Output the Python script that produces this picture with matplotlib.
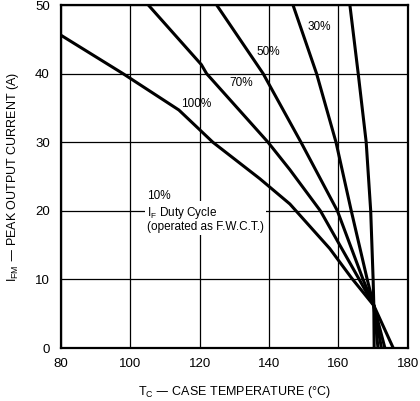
import matplotlib
matplotlib.use("Agg")
import matplotlib.pyplot as plt

plt.rcParams['font.family'] = ['Liberation Sans', 'DejaVu Sans']
plt.rcParams['mathtext.default'] = 'regular'

# Derating curves: case temperature (°C) vs peak output current (A)
temp_100 = [80, 97.9, 114, 123.8, 137.3, 146, 157.5, 163.8, 170.2, 175.8]
curr_100 = [45.6, 40, 34.7, 30, 24.7, 21, 14.5, 10.2, 6.2, 0]

temp_70 = [105.2, 120.5, 122, 139.7, 146, 154.8, 166, 170.2, 173.4]
curr_70 = [50, 41.3, 40, 30, 26, 20, 10, 6.2, 0]

temp_50 = [124.9, 138.3, 149.2, 159.7, 167.1, 170.2, 172.4]
curr_50 = [50, 40, 30, 20, 10, 6.2, 0]

temp_30 = [146.9, 153.7, 159.3, 163.7, 168.3, 170.2, 171.4]
curr_30 = [50, 40, 30, 20, 10, 6.2, 0]

temp_10 = [163.3, 165.7, 168.0, 169.3, 170.0, 170.2, 170.3]
curr_10 = [50, 40, 30, 20, 10, 6.2, 0]

x_ticks = [80, 100, 120, 140, 160, 180]
y_ticks = [0, 10, 20, 30, 40, 50]

curve_labels = ["100%", "70%", "50%", "30%"]
label_x = [118.9, 131.9, 139.7, 154.6]
label_y = [35.6, 38.6, 43.1, 46.8]

fig = plt.figure(figsize=(4.2, 4.01), dpi=100)
ax = fig.add_axes([0.145, 0.132, 0.826, 0.8555])

ax.set_xlim(80, 180)
ax.set_ylim(0, 50)
ax.set_xticks(x_ticks)
ax.set_yticks(y_ticks)
ax.grid(True, color='black', linewidth=0.9)
ax.set_axisbelow(True)
ax.tick_params(length=0, labelsize=9.5)
ax.tick_params(axis='y', pad=8)
ax.tick_params(axis='x', pad=7)
for s in ax.spines.values():
    s.set_linewidth(1.6)
    s.set_color('black')

for t, c in [(temp_100, curr_100), (temp_70, curr_70), (temp_50, curr_50),
             (temp_30, curr_30), (temp_10, curr_10)]:
    ax.plot(t, c, color='black', linewidth=2.2, solid_capstyle='butt', zorder=3)

for lab, lx, ly in zip(curve_labels, label_x, label_y):
    ax.text(lx, ly, lab, fontsize=8.5, ha='center', va='center', zorder=5)

ax.text(104.8, 22.1, "10%", fontsize=8.5, ha='left', va='center', zorder=5)
ax.text(104.8, 20.9, "$I_F$ Duty Cycle\n(operated as F.W.C.T.)", fontsize=8.5,
        ha='left', va='top', linespacing=1.0, zorder=5,
        bbox=dict(facecolor='white', edgecolor='none', pad=1.5))

ax.set_xlabel("$T_C$ — CASE TEMPERATURE (°C)", fontsize=9, labelpad=10)
ax.set_ylabel("$I_{FM}$ — PEAK OUTPUT CURRENT (A)", fontsize=9, labelpad=10)

fig.savefig("out.png", dpi=100, facecolor='white')
